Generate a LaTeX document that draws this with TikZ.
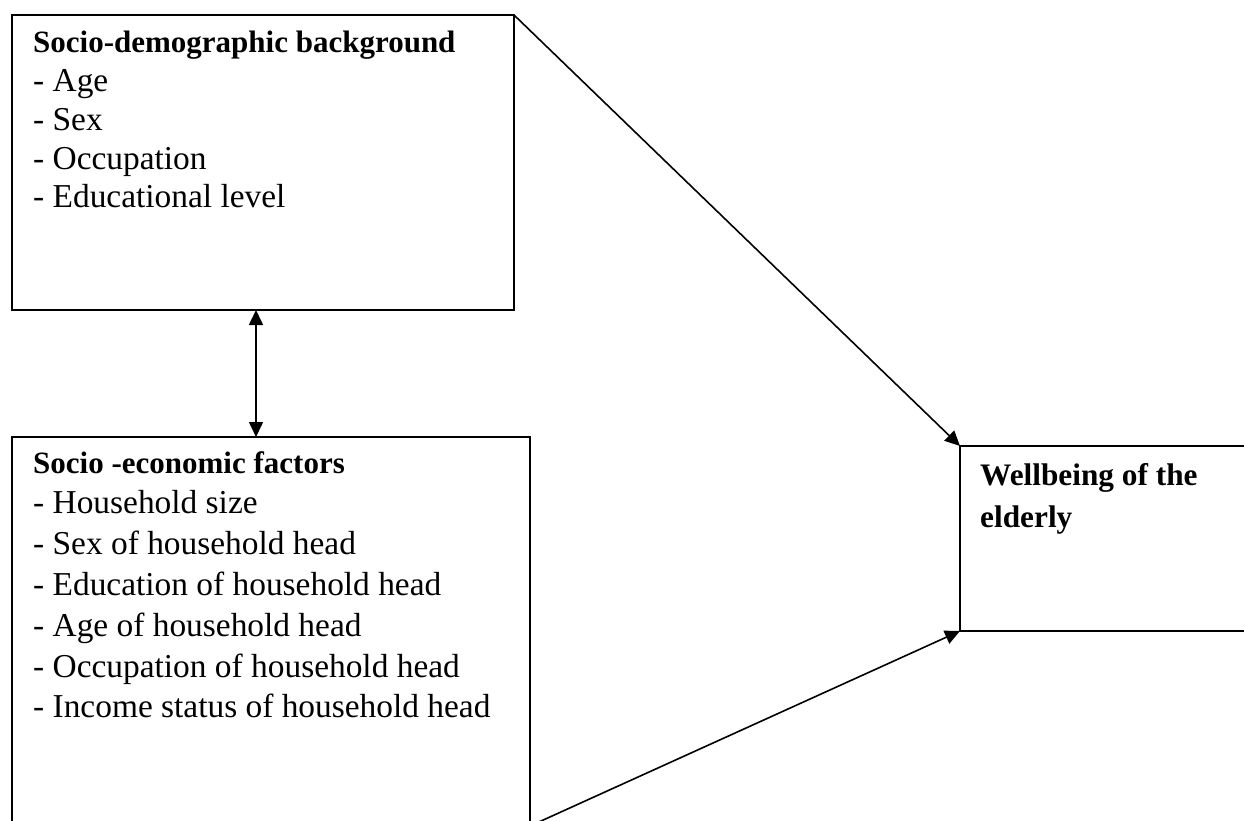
\documentclass[tikz,border=0pt]{standalone}
\usepackage{fontspec}
\setmainfont{Liberation Serif}
\usetikzlibrary{arrows.meta}
\newcommand{\hd}[1]{{\fontsize{31}{38}\selectfont\bfseries #1}}
\begin{document}
\begin{tikzpicture}[x=1pt,y=-1pt,
  box/.style={draw, line width=1.6pt, rectangle, inner sep=0pt, outer sep=0pt, anchor=north west},
  txt/.style={inner sep=0pt, anchor=base west},
  arr/.style={line width=1.6pt, -{Triangle[length=15pt,width=14pt]}},
  darr/.style={line width=1.6pt, {Triangle[length=15pt,width=14pt]}-{Triangle[length=15pt,width=14pt]}}]
\useasboundingbox (0,0) rectangle (1244,821);
\fill[white] (0,0) rectangle (1244,821);
\node[box, minimum width=502pt, minimum height=295pt] (b1) at (12,15) {};
\node[box, minimum width=518pt, minimum height=389pt] (b2) at (12,437) {};
\node[box, minimum width=292pt, minimum height=185pt] (b3) at (960,446) {};
\node[txt] (t1) at (33,53) {\fontsize{33.4}{38.75}\selectfont\begin{tabular}[t]{@{}l@{}}
\hd{Socio-demographic background}\\
- Age\\
- Sex\\
- Occupation\\
- Educational level
\end{tabular}};
\node[txt] (t2) at (33,473) {\fontsize{33.4}{40.8}\selectfont\begin{tabular}[t]{@{}l@{}}
\hd{Socio -economic factors}\\
- Household size\\
- Sex of household head\\
- Education of household head\\
- Age of household head\\
- Occupation of household head\\
- Income status of household head
\end{tabular}};
\node[txt] (t3) at (980,485) {\fontsize{31.3}{42}\selectfont\begin{tabular}[t]{@{}l@{}}
\textbf{Wellbeing of the}\\
\textbf{elderly}
\end{tabular}};
\coordinate (m) at (256,0);
\draw[darr] (b1.south -| m) -- (b2.north -| m);
\draw[arr] (b1.north east) -- (b3.north west);
\draw[arr] (b2.south east) -- (b3.south west);
\end{tikzpicture}
\end{document}
